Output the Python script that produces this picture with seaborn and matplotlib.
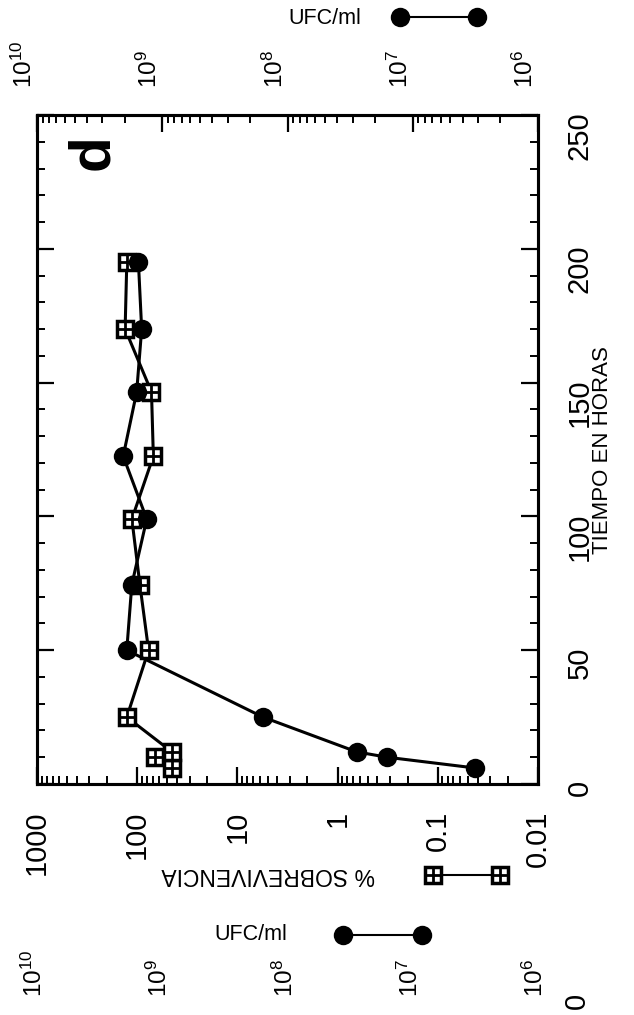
import numpy as np
import pandas as pd
import matplotlib
matplotlib.use("Agg")
import matplotlib.pyplot as plt
import matplotlib.transforms as mtransforms
import seaborn as sns
from matplotlib.ticker import (FixedLocator, FixedFormatter, LogLocator,
                               MultipleLocator, NullFormatter)

# ---------------- data ----------------
hours = [6, 10, 12, 25, 50, 74.5, 99, 122.5, 146.5, 170, 195]
survival_pct = [45, 66, 45, 127, 77, 94, 113, 69, 72, 132, 127]
ufc_ml = [3.2e6, 1.6e7, 2.8e7, 1.57e8, 1.92e9, 1.75e9, 1.33e9, 2.05e9,
          1.6e9, 1.46e9, 1.55e9]

pct_ticks = [1000, 100, 10, 1, 0.1, 0.01]
pct_labels = ["1000", "100", "10", "1", "0.1", "0.01"]
ufc_ticks = [1e10, 1e9, 1e8, 1e7, 1e6]
ufc_labels = [r"$10^{10}$", r"$10^{9}$", r"$10^{8}$", r"$10^{7}$", r"$10^{6}$"]
time_ticks = [0, 50, 100, 150, 200, 250]
time_labels = ["0", "50", "100", "150", "200", "250"]

df = pd.DataFrame({"hours": hours, "pct": survival_pct, "ufc": ufc_ml})

# ---------------- style ----------------
sns.set_style("ticks")
plt.rcParams["font.family"] = ["Liberation Sans", "DejaVu Sans"]
plt.rcParams["mathtext.default"] = "regular"
for key in ("text.color", "axes.labelcolor", "xtick.color", "ytick.color",
            "axes.edgecolor"):
    plt.rcParams[key] = "black"

W, H = 634, 1015
fig = plt.figure(figsize=(W / 100, H / 100), dpi=100)
fig.patch.set_facecolor("white")
L, R, T, B = 37, 538, 115, 784
ax = fig.add_axes([L / W, 1 - B / H, (R - L) / W, (B - T) / H])
ax.set_xscale("log")
ax2 = ax.twiny()
ax2.set_xscale("log")

# survival (%) : squares with a cross
sns.lineplot(data=df, x="pct", y="hours", orient="y", sort=False,
             estimator=None, ax=ax, color="black", lw=2.2, marker="s",
             markersize=11, markerfacecolor="white", markeredgecolor="black",
             markeredgewidth=2.5)
sns.scatterplot(data=df, x="pct", y="hours", ax=ax, marker="+", s=100,
                color="black", linewidth=2.0, zorder=3)
# UFC/ml : filled circles
sns.lineplot(data=df, x="ufc", y="hours", orient="y", sort=False,
             estimator=None, ax=ax2, color="black", lw=2.2, marker="o",
             markersize=14, markerfacecolor="black", markeredgecolor="black",
             markeredgewidth=0)

ax.set_xlim(1000, 0.01)
ax.set_ylim(0, 250)
ax2.set_xlim(1e10, 1e6)
ax.set_xlabel("")
ax.set_ylabel("")
ax2.set_xlabel("")
ax2.set_ylabel("")

# ticks
ax.xaxis.set_major_locator(FixedLocator(pct_ticks))
ax.xaxis.set_major_formatter(FixedFormatter(pct_labels))
ax.xaxis.set_minor_locator(LogLocator(base=10, subs=np.arange(2, 10), numticks=30))
ax.xaxis.set_minor_formatter(NullFormatter())
ax2.xaxis.set_major_locator(FixedLocator(ufc_ticks))
ax2.xaxis.set_major_formatter(FixedFormatter(ufc_labels))
ax2.xaxis.set_minor_locator(LogLocator(base=10, subs=np.arange(2, 10), numticks=30))
ax2.xaxis.set_minor_formatter(NullFormatter())
ax.yaxis.set_major_locator(FixedLocator(time_ticks))
ax.yaxis.set_major_formatter(FixedFormatter(time_labels))
ax.yaxis.set_minor_locator(MultipleLocator(10))

ax.tick_params(axis="x", which="major", direction="in", length=12, width=1.6,
               bottom=True, top=False, labelbottom=True, labeltop=False,
               labelsize=21, pad=19, labelrotation=90, colors="black")
ax.tick_params(axis="x", which="minor", direction="in", length=6, width=1.4,
               bottom=True, top=False, colors="black")
ax2.tick_params(axis="x", which="major", direction="in", length=12, width=1.6,
                top=True, bottom=False, labeltop=True, labelbottom=False,
                labelsize=17.5, pad=19.5, labelrotation=90, colors="black")
ax2.tick_params(axis="x", which="minor", direction="in", length=6, width=1.4,
                top=True, bottom=False, colors="black")
ax.tick_params(axis="y", which="major", direction="in", length=12, width=1.6,
               left=True, right=True, labelleft=False, labelright=True,
               labelsize=21, pad=20, labelrotation=90, colors="black")
ax.tick_params(axis="y", which="minor", direction="in", length=6, width=1.4,
               left=True, right=True, colors="black")

for lab in ax2.get_xticklabels():
    lab.set_ha("right")
shift = mtransforms.ScaledTranslation(0, -0.07, fig.dpi_scale_trans)
for lab in ax.get_yticklabels():
    lab.set_transform(lab.get_transform() + shift)

for a in (ax, ax2):
    for sp in a.spines.values():
        sp.set_linewidth(2.2)
        sp.set_color("black")

# ---------------- overlay texts / legend keys (pixel coordinates) ----------------
ov = fig.add_axes([0, 0, 1, 1])
ov.set_xlim(0, W)
ov.set_ylim(H, 0)
ov.axis("off")
ov.patch.set_visible(False)

ov.text(93, 152, "d", rotation=90, fontsize=42, fontweight="bold",
        ha="center", va="center", color="black")
ov.text(268, 875, "% SOBREVIVENCIA", rotation=180, ha="center", va="center",
        fontsize=16.5, color="black")
ov.text(603, 450, "TIEMPO EN HORAS", rotation=90, ha="center", va="center",
        fontsize=16, color="black")

# square legend key
ov.plot([433, 500], [875, 875], color="black", lw=1.5, marker="s", ms=11,
        mfc="white", mec="black", mew=2.5, clip_on=False)
ov.plot([433, 500], [875, 875], ls="none", color="black", marker="+", ms=10,
        mew=2.0, clip_on=False)
# circle legend keys
ov.text(251, 935, "UFC/ml", ha="center", va="center", fontsize=15.5,
        color="black")
ov.plot([343, 422], [935, 935], color="black", lw=1.5, marker="o", ms=14,
        mfc="black", mec="black", mew=0, clip_on=False)
ov.text(325, 18, "UFC/ml", ha="center", va="center", fontsize=15.5,
        color="black")
ov.plot([400, 477], [17, 17], color="black", lw=1.5, marker="o", ms=14,
        mfc="black", mec="black", mew=0, clip_on=False)

# stray labels of the neighbouring panel
for k, lab in enumerate(ufc_labels):
    ov.text(47 + 125.25 * k, 997, lab, rotation=90, ha="right", va="bottom",
            fontsize=17.5, color="black")
ov.text(577, 993, "0", rotation=90, ha="center", va="top", fontsize=21,
        color="black")

fig.savefig("out.png", dpi=100, facecolor="white")
